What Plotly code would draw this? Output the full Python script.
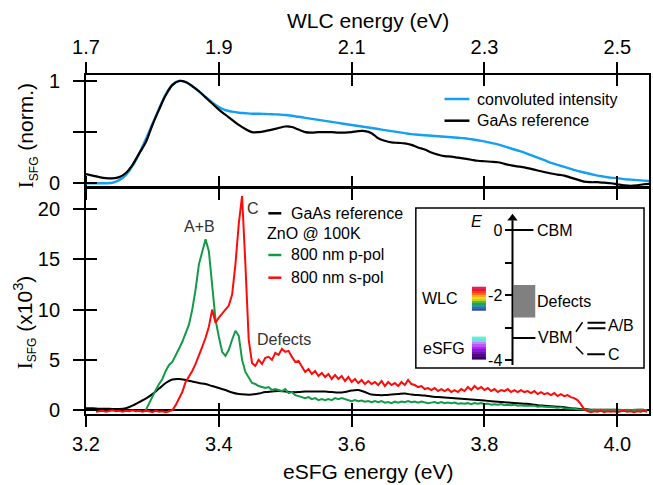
import numpy as np
import plotly.graph_objects as go

# ---------------- data ----------------
# top panel (WLC energy axis), 0.01 eV sampling from 1.70 eV
wlc_gaas = [0.09, 0.075, 0.06, 0.05, 0.048, 0.06, 0.1, 0.18, 0.29, 0.40,
            0.57, 0.72, 0.86, 0.96, 1.0, 0.99, 0.95, 0.9, 0.84, 0.78,
            0.72, 0.67, 0.62, 0.57, 0.53, 0.50, 0.50, 0.51, 0.525, 0.54,
            0.555, 0.55, 0.525, 0.50, 0.495, 0.50, 0.50, 0.50, 0.495, 0.495,
            0.50, 0.51, 0.51, 0.49, 0.44, 0.415, 0.40, 0.395, 0.39, 0.375,
            0.35, 0.33, 0.30, 0.28, 0.265, 0.26, 0.25, 0.24, 0.23, 0.22,
            0.215, 0.21, 0.205, 0.19, 0.175, 0.165, 0.155, 0.14, 0.125, 0.11,
            0.095, 0.085, 0.075, 0.055, 0.035, 0.015, 0.01, 0.01, 0.005, 0.0,
            -0.01, -0.02, -0.025, -0.02, -0.01, -0.005]
wlc_conv = [0.0, 0.0, 0.0, 0.0, 0.005, 0.03, 0.08, 0.17, 0.29, 0.43,
            0.58, 0.73, 0.87, 0.965, 1.0, 0.99, 0.95, 0.9, 0.845, 0.79,
            0.745, 0.715, 0.70, 0.69, 0.685, 0.68, 0.68, 0.678, 0.675, 0.672,
            0.668, 0.66, 0.65, 0.64, 0.63, 0.62, 0.61, 0.60, 0.59, 0.58,
            0.57, 0.56, 0.55, 0.54, 0.53, 0.52, 0.51, 0.50, 0.49, 0.48,
            0.475, 0.47, 0.465, 0.46, 0.455, 0.45, 0.445, 0.44, 0.43, 0.42,
            0.41, 0.395, 0.38, 0.36, 0.34, 0.32, 0.30, 0.275, 0.25, 0.225,
            0.20, 0.18, 0.16, 0.14, 0.12, 0.105, 0.09, 0.075, 0.065, 0.055,
            0.05, 0.04, 0.035, 0.03, 0.025, 0.02]
wlc_energy = np.round(1.70 + 0.01 * np.arange(len(wlc_gaas)), 2)

# bottom panel (eSFG energy axis), values in units of 10^3
gaas_ref = [0.2, 0.2, 0.15, 0.15, 0.12, 0.12, 0.2, 0.45, 0.8, 1.15,
            1.6, 2.15, 2.7, 3.05, 3.1, 3.0, 2.85, 2.7, 2.6, 2.4,
            2.2, 2.0, 1.75, 1.6, 1.55, 1.55, 1.65, 1.8, 1.85, 1.9,
            1.85, 1.8, 1.8, 1.85, 1.85, 1.85, 1.85, 1.8, 1.75, 1.8,
            1.95, 2.0, 1.8, 1.55, 1.5, 1.5, 1.55, 1.6, 1.65, 1.55,
            1.5, 1.45, 1.35, 1.3, 1.25, 1.2, 1.15, 1.1, 1.05, 1.0,
            0.95, 0.9, 0.85, 0.8, 0.75, 0.7, 0.65, 0.6, 0.5, 0.45,
            0.4, 0.35, 0.3, 0.2, 0.15, 0.1, 0.05, 0.05, 0.05, 0.05,
            0.05, 0.0, 0.0, 0.05, 0.05]
gaas_energy = np.round(3.20 + 0.01 * np.arange(len(gaas_ref)), 2)

p_pol = [0.0, 0.7, 1.4, 2.0, 2.6, 3.1, 3.9, 4.5, 4.8, 5.4,
         6.1, 6.8, 7.6, 8.5, 10.0, 12.0, 14.5, 15.8, 17.0, 15.8,
         12.0, 9.0, 7.3, 5.8, 5.4, 6.0, 7.0, 7.9, 7.4, 5.0,
         3.8, 3.2, 2.7,
         2.6, 2.4, 2.3, 2.2, 2.3, 2.0, 2.1, 2.0, 1.9, 2.1,
         1.7, 1.8, 1.5, 1.4, 1.3, 1.2, 1.3, 1.1, 1.2, 1.0,
         1.1, 1.0, 1.1, 1.0, 1.2, 1.1, 1.2, 1.1, 1.0, 0.9,
         1.0, 0.9, 0.95, 0.85, 0.9, 0.8, 0.9, 0.8, 0.9, 0.75,
         0.8, 0.7, 0.85, 0.75, 0.85, 0.8, 0.9, 0.8, 0.85, 0.75,
         0.85, 0.8, 0.7, 0.75, 0.8, 0.7, 0.8, 0.7, 0.75, 0.7,
         0.75, 0.65, 0.7, 0.65, 0.7, 0.6, 0.7, 0.65, 0.7, 0.6,
         0.65, 0.55, 0.6, 0.55, 0.6, 0.5, 0.55, 0.5, 0.55, 0.45,
         0.5, 0.45, 0.45, 0.4, 0.45, 0.35, 0.4, 0.35, 0.35, 0.3,
         0.3, 0.25, 0.3, 0.2, 0.2, 0.15, 0.15, 0.1, 0.1, 0.05,
         0.05, 0.0, 0.05, 0.0, 0.05, 0.0, 0.05, 0.0, 0.05, 0.0,
         0.05, 0.0, 0.05, 0.0, 0.05, 0.0, 0.05, 0.0, 0.05]
p_energy = np.round(3.290 + 0.005 * np.arange(len(p_pol)), 3)

s_pol = [-0.15, -0.1, -0.05, -0.15, -0.1, 0.0, -0.1, -0.05, -0.15, -0.05,
         -0.1, 0.0, -0.1, -0.05, -0.15, -0.05, -0.1, -0.2, -0.05, -0.15,
         -0.1, -0.2, -0.1, 0.0,
         0.5, 1.2, 1.8, 2.8, 3.3, 3.9, 4.6, 5.4, 6.3, 7.2,
         8.3, 10.0, 8.7, 9.2, 9.6, 9.9, 10.4, 11.5, 14.5, 18.5,
         21.3, 14.5, 7.0, 4.7,
         4.4, 5.0, 4.6, 5.2, 5.3, 5.0, 5.7, 5.5, 6.1, 5.8,
         5.9, 5.3, 4.8, 4.9, 4.3, 3.8, 4.1, 3.6, 3.9, 3.4,
         3.7, 3.3, 3.6, 3.1, 3.5, 3.1, 3.4, 2.9, 3.3, 2.8,
         3.1, 2.7, 3.0, 2.6, 2.9, 2.6, 2.8, 2.5, 2.9, 2.4,
         2.8, 2.5, 2.7, 2.4, 2.8, 2.5, 3.0, 2.6, 2.5, 2.3,
         2.4, 2.1, 2.2, 2.0, 2.2, 1.9, 2.1, 1.9, 2.1, 1.8,
         2.0, 1.8, 2.1, 1.9, 2.3, 2.0, 2.4, 2.1, 2.3, 2.0,
         2.2, 1.9, 2.1, 1.8, 2.0, 1.9, 2.1, 1.8, 2.0, 1.8,
         2.0, 1.8, 1.9, 1.7, 1.9, 1.6, 1.8, 1.6, 1.7, 1.5,
         1.7, 1.4, 1.6, 1.4, 1.5, 1.3, 1.2, 1.0, 0.6, 0.1,
         -0.1, -0.2, -0.1, -0.15, -0.05, -0.2, -0.1, -0.15, -0.1, -0.2,
         -0.1, -0.05, -0.15, -0.1, -0.2, -0.1, -0.15, -0.05, -0.15]
s_energy = np.round(3.215 + 0.005 * np.arange(len(s_pol)), 3)

top_ticks = [1.7, 1.9, 2.1, 2.3, 2.5]
top_ticktext = ["1.7", "1.9", "2.1", "2.3", "2.5"]
bot_ticks = [3.2, 3.4, 3.6, 3.8, 4.0]
bot_ticktext = ["3.2", "3.4", "3.6", "3.8", "4.0"]

# inset energy diagram (eV)
cbm_level = 0.0
vbm_level = -3.32
defect_band = [-2.69, -1.69]
ab_levels = [-2.85, -3.02]
c_level = -3.82
wlc_band = [-2.49, -1.745]
esfg_band = [-4.0, -3.28]
wlc_colors = ["#e4205a", "#f01828", "#f84018", "#fa7010", "#f8a818", "#f2d820",
              "#b8d828", "#58b838", "#20a060", "#2890b8", "#3468b8", "#3c4898"]
esfg_colors = ["#5ff0d2", "#78d8e8", "#c088f4", "#c050f8", "#a828f0",
               "#8818d8", "#6c10b0", "#500888", "#380060"]

# ---------------- geometry ----------------
W, H = 653, 485
ML, MR, MT, MB = 86, 2, 75, 71
PW, PH = W - ML - MR, H - MT - MB


def px(x):
    return (x - ML) / PW


def py(y):
    return (H - MB - y) / PH


SPLIT = py(187.5)
HALF = 0.9 / PH  # half line width, so both frame lines coincide
X_BOT = [3.2, 3.2 + PW / 666.5]
X_TOP = [1.7, 1.7 + PW / 666.5]
Y_BOT = [-0.38, 22.05]
Y_TOP = [-0.033, 1.059]

BLACK = "#000000"
BLUE = "#14a0f0"
GREEN = "#129a48"
RED = "#ff0a0a"
FONT = "Liberation Sans, Arial, sans-serif"

fig = go.Figure()

# top panel
fig.add_trace(go.Scatter(x=wlc_energy, y=wlc_conv, mode="lines", xaxis="x2", yaxis="y2",
                         line=dict(color=BLUE, width=2.4, shape="spline"), showlegend=False))
fig.add_trace(go.Scatter(x=wlc_energy, y=wlc_gaas, mode="lines", xaxis="x2", yaxis="y2",
                         line=dict(color=BLACK, width=2.2, shape="spline"), showlegend=False))
# bottom panel
fig.add_trace(go.Scatter(x=gaas_energy, y=gaas_ref, mode="lines", xaxis="x", yaxis="y",
                         line=dict(color=BLACK, width=2, shape="spline"), showlegend=False))
fig.add_trace(go.Scatter(x=p_energy, y=p_pol, mode="lines", xaxis="x", yaxis="y",
                         line=dict(color=GREEN, width=2), showlegend=False))
fig.add_trace(go.Scatter(x=s_energy, y=s_pol, mode="lines", xaxis="x", yaxis="y",
                         line=dict(color=RED, width=2), showlegend=False))

# empty traces so that the overlay (inward tick) axes are drawn
for xa, ya in [("x4", "y"), ("x", "y5"), ("x6", "y2"), ("x2", "y7")]:
    fig.add_trace(go.Scatter(x=[None], y=[None], xaxis=xa, yaxis=ya, mode="lines",
                             showlegend=False, hoverinfo="skip"))

# inset: schematic x units = pixels from the left edge of the inset box
AX = 97  # energy axis position


def band_heatmap(colors, band, x0, x1):
    n = len(colors)
    edges = np.linspace(band[0], band[1], n + 1)
    cols = colors[::-1]  # bottom to top
    cs = [[k / (n - 1), c] for k, c in enumerate(cols)]
    return go.Heatmap(x=[x0, x1], y=edges, z=[[k] for k in range(n)], colorscale=cs,
                      zmin=0, zmax=n - 1, showscale=False, xaxis="x3", yaxis="y3",
                      hoverinfo="skip")


fig.add_trace(band_heatmap(wlc_colors, wlc_band, 56.3, 70.7))
fig.add_trace(band_heatmap(esfg_colors, esfg_band, 56.3, 70.7))
fig.add_trace(go.Bar(x=[AX + 12], y=[defect_band[1] - defect_band[0]], base=[defect_band[0]],
                     width=[21.7], marker=dict(color="#808080", line=dict(width=0)),
                     xaxis="x3", yaxis="y3", showlegend=False, hoverinfo="skip"))


def seg(xs, ys, w=2):
    fig.add_trace(go.Scatter(x=xs, y=ys, mode="lines", xaxis="x3", yaxis="y3",
                             line=dict(color=BLACK, width=w), showlegend=False,
                             hoverinfo="skip"))


seg([AX, AX], [-4.15, 0.3])
seg([AX, AX + 21], [cbm_level, cbm_level])
seg([AX, AX + 23], [vbm_level, vbm_level])
seg([160.7, 167.3], [vbm_level + 0.19, ab_levels[0] + 0.01], 1.5)
seg([160.7, 168.0], [vbm_level - 0.27, c_level], 1.5)
for lv in ab_levels:
    seg([172.3, 190.3], [lv, lv])
seg([172.0, 189.7], [c_level, c_level])
fig.add_trace(go.Scatter(x=[AX], y=[0.36], mode="markers", xaxis="x3", yaxis="y3",
                         marker=dict(symbol="triangle-up", size=9, color=BLACK),
                         showlegend=False, hoverinfo="skip", cliponaxis=False))

annotations = []


def txt(text, x, y, xref="paper", yref="paper", size=16, color=BLACK, xanchor="center",
        angle=0):
    annotations.append(dict(text=text, x=x, y=y, xref=xref, yref=yref, showarrow=False,
                            xanchor=xanchor, yanchor="middle", textangle=angle,
                            font=dict(family=FONT, size=size, color=color)))


# axis titles
txt("WLC energy (eV)", 0.5, py(20), size=21)
txt("eSFG energy (eV)", 0.5, py(471), size=21)
txt("<span style='font-family:Liberation Serif'>I</span><sub><span style='font-size:12px'>SFG</span></sub> (norm.)",
    px(27), py(136), size=21, angle=-90)
txt("<span style='font-family:Liberation Serif'>I</span><sub><span style='font-size:12px'>SFG</span></sub> (x10<sup>3</sup>)",
    px(24), py(322), size=21, angle=-90)

# top legend
shapes = []
for yy, col, lab in [(99, BLUE, "convoluted intensity"), (120.7, BLACK, "GaAs reference")]:
    shapes.append(dict(type="line", xref="paper", yref="paper", x0=px(445.8), x1=px(470.8),
                       y0=py(yy), y1=py(yy), line=dict(color=col, width=2.5)))
    txt(lab, px(476), py(yy), xanchor="left")

# bottom legend
for yy, col, lab in [(213.3, BLACK, "GaAs reference"), (255, GREEN, "800 nm p-pol"),
                     (277.7, RED, "800 nm s-pol")]:
    shapes.append(dict(type="line", xref="paper", yref="paper", x0=px(269), x1=px(282),
                       y0=py(yy), y1=py(yy), line=dict(color=col, width=2.5)))
    txt(lab, px(290), py(yy), xanchor="left")
txt("ZnO @ 100K", px(266), py(233.3), xanchor="left")

# peak labels
txt("A+B", 3.371, 18.3, "x", "y", color="#333333")
txt("C", 3.451, 20.1, "x", "y", color="#333333")
txt("Defects", 3.498, 7.0, "x", "y", color="#333333")

# inset labels
txt("<i>E</i>", 61, 0.255, "x3", "y3")
txt("CBM", 139.7, cbm_level, "x3", "y3")
txt("Defects", 148.7, -2.2, "x3", "y3")
txt("VBM", 139.7, vbm_level, "x3", "y3")
txt("A/B", 206.3, -2.95, "x3", "y3")
txt("C", 199, c_level, "x3", "y3")
txt("WLC", 24.7, -2.12, "x3", "y3")
txt("eSFG", 28, -3.66, "x3", "y3")

# inset box
shapes.append(dict(type="rect", xref="paper", yref="paper", x0=px(417), x1=px(646),
                   y0=py(368), y1=py(208), line=dict(color=BLACK, width=1.5),
                   fillcolor="white", layer="below"))

LW = 1.8
TL = 11
common = dict(showgrid=False, zeroline=False, linecolor=BLACK, tickcolor=BLACK,
              tickwidth=LW, ticklen=TL, tickfont=dict(family=FONT, size=20, color=BLACK))

fig.update_layout(
    width=W, height=H, margin=dict(l=ML, r=MR, t=MT, b=MB),
    paper_bgcolor="white", plot_bgcolor="rgba(0,0,0,0)",
    font=dict(family=FONT, size=20, color=BLACK),
    showlegend=False,
    xaxis=dict(domain=[0, 1], anchor="y", range=X_BOT, tickmode="array", tickvals=bot_ticks,
               ticktext=bot_ticktext, ticks="outside", showline=True, linewidth=LW,
               mirror="ticks", ticklabelstandoff=0, **common),
    xaxis4=dict(overlaying="x", anchor="y", range=X_BOT, tickmode="array", tickvals=bot_ticks,
                ticks="inside", showline=False, mirror="ticks", showticklabels=False, **common),
    yaxis=dict(domain=[0, SPLIT - HALF], anchor="x", range=Y_BOT, tickmode="array",
               tickvals=[0, 5, 10, 15, 20], ticktext=["0", "5", "10", "15", "20"],
               ticks="outside", showline=True, linewidth=LW, mirror=True,
               ticklabelstandoff=9,
               **{**common, "zeroline": True}, zerolinecolor=BLACK, zerolinewidth=1.6),
    yaxis5=dict(overlaying="y", anchor="x", range=Y_BOT, tickmode="array",
                tickvals=[0, 5, 10, 15, 20], ticks="inside", showline=False,
                showticklabels=False, **common),
    xaxis2=dict(domain=[0, 1], anchor="y2", side="top", range=X_TOP, tickmode="array",
                tickvals=top_ticks, ticktext=top_ticktext, ticks="outside", showline=True,
                linewidth=LW, mirror="ticks", ticklabelstandoff=0, **common),
    xaxis6=dict(overlaying="x2", anchor="y2", side="top", range=X_TOP, tickmode="array",
                tickvals=top_ticks, ticks="inside", showline=False, mirror="ticks",
                showticklabels=False, **common),
    yaxis2=dict(domain=[SPLIT + HALF, 1], anchor="x2", range=Y_TOP, tickmode="array",
                tickvals=[0, 0.5, 1], ticktext=["0", "", "1"], ticks="outside",
                showline=True, linewidth=LW, mirror=True, ticklabelstandoff=9, **common),
    yaxis7=dict(overlaying="y2", anchor="x2", range=Y_TOP, tickmode="array",
                tickvals=[0, 0.5, 1], ticks="inside", showline=False,
                showticklabels=False, **common),
    xaxis3=dict(domain=[px(417), px(646)], anchor="y3", range=[0, 229], visible=False,
                fixedrange=True),
    yaxis3=dict(domain=[py(368), py(208)], anchor="free", position=px(417 + AX),
                range=[-4.246, 0.677], tickmode="array", tickvals=[0, -1, -2, -3, -4],
                ticktext=["0", "", "-2", "", "-4"], ticks="outside", ticklen=7,
                tickwidth=1.5, tickcolor=BLACK, showline=False, showgrid=False,
                zeroline=False, tickfont=dict(family=FONT, size=16, color=BLACK)),
    annotations=annotations,
    shapes=shapes,
)

fig.write_html("out.html")
